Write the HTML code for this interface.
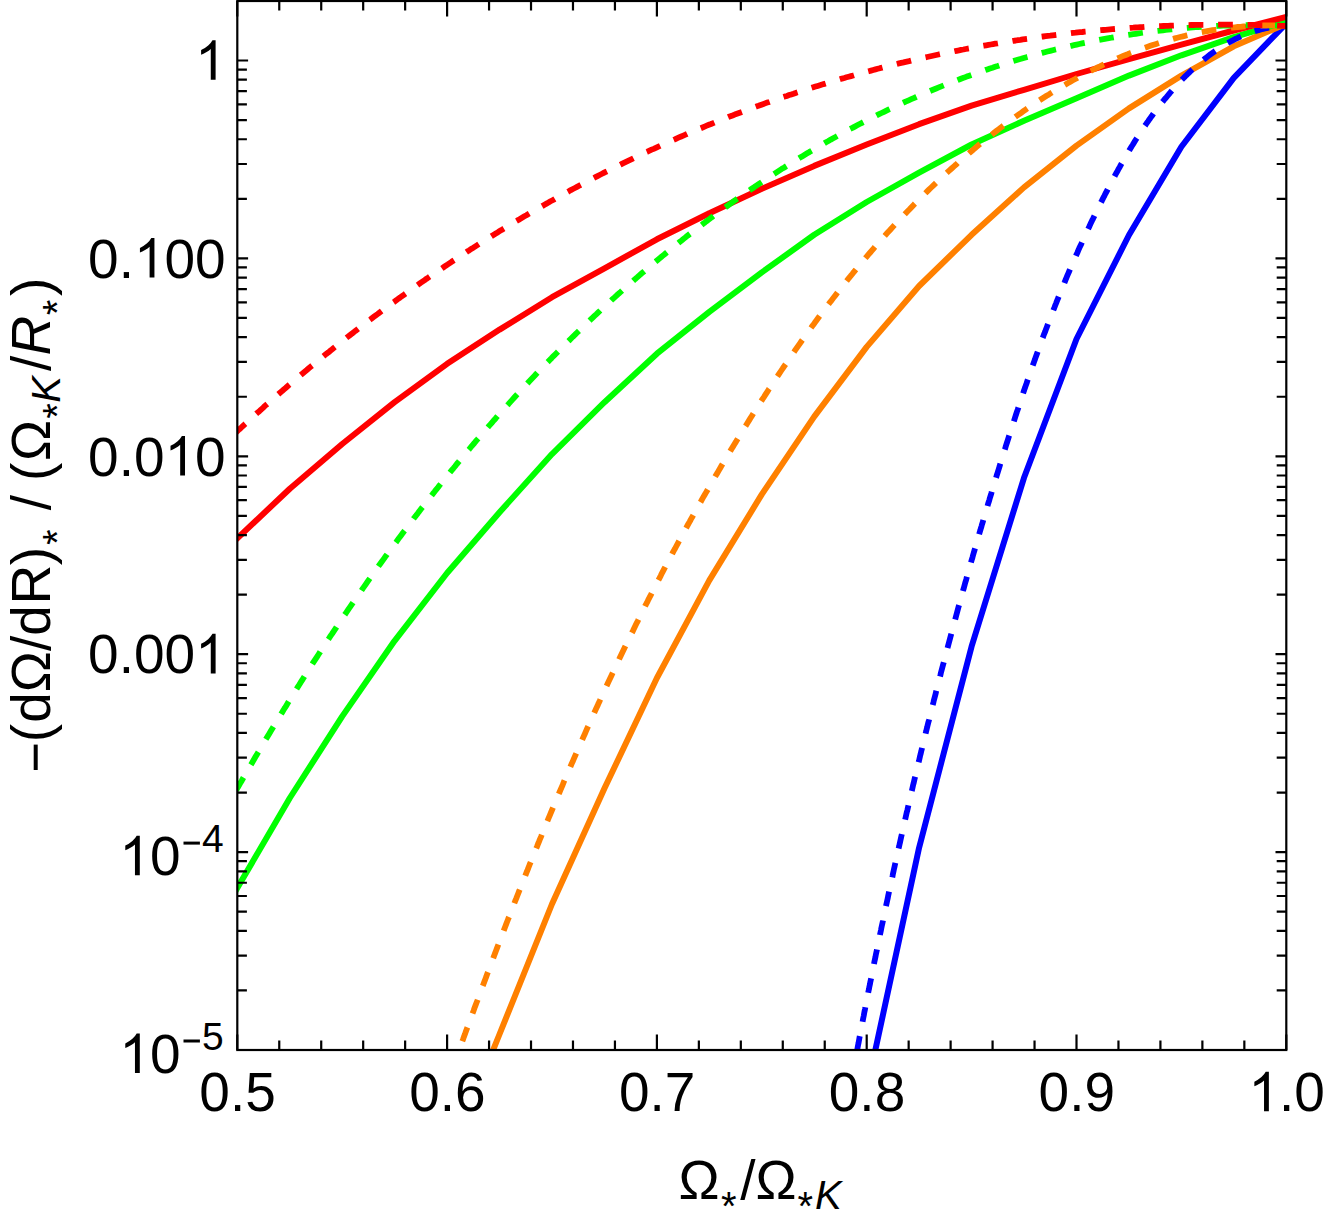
<!DOCTYPE html>
<html><head><meta charset="utf-8"><title>plot</title>
<style>html,body{margin:0;padding:0;background:#fff;}svg{display:block;}</style></head>
<body>
<svg width="1329" height="1211" viewBox="0 0 1329 1211">
<rect width="1329" height="1211" fill="#fff"/>
<defs><clipPath id="c"><rect x="237.3" y="1.0" width="1049.0" height="1049.0"/></clipPath></defs>
<g clip-path="url(#c)" fill="none" stroke-width="6.0" stroke-linejoin="round">
<path d="M864.2,1101.7 L866.7,1090.0 L919.1,847.7 L971.6,646.4 L1024.0,477.8 L1076.5,339.0 L1129.0,235.0 L1181.4,146.7 L1233.8,77.9 L1286.3,23.3 L1289.1,20.4" stroke="#0000ff"/>
<path d="M442.6,1175.1 L447.1,1164.0 L499.6,1034.0 L552.0,904.0 L604.5,788.3 L656.9,678.0 L709.3,580.4 L761.8,494.4 L814.2,416.6 L866.7,346.9 L919.1,286.0 L971.6,234.8 L1024.0,187.4 L1076.5,145.6 L1129.0,108.4 L1181.4,75.6 L1233.8,46.3 L1286.3,23.7 L1290.0,22.1" stroke="#ff8000"/>
<path d="M231.3,898.4 L237.3,888.0 L289.8,798.0 L342.2,716.4 L394.6,640.8 L447.1,573.0 L499.6,512.2 L552.0,454.1 L604.5,402.2 L656.9,353.7 L709.3,311.9 L761.8,272.4 L814.2,234.8 L866.7,202.0 L919.1,172.7 L971.6,144.5 L1024.0,120.7 L1076.5,98.2 L1129.0,75.6 L1181.4,55.3 L1233.8,37.2 L1286.3,21.5 L1290.1,20.4" stroke="#00ff00"/>
<path d="M228.6,546.5 L237.3,538.3 L289.8,488.8 L342.2,444.0 L394.6,402.2 L447.1,363.8 L499.6,329.6 L552.0,297.2 L604.5,268.3 L656.9,239.3 L709.3,213.3 L761.8,188.8 L814.2,165.9 L866.7,144.5 L919.1,124.2 L971.6,105.6 L1024.0,89.8 L1076.5,74.0 L1129.0,59.1 L1181.4,44.7 L1233.8,30.5 L1286.3,16.9 L1290.2,15.9" stroke="#ff0000"/>
<path d="M854.9,1061.8 L857.2,1050.0 L857.6,1047.7 L858.0,1045.5 L858.5,1043.2 L858.9,1040.9 L859.3,1038.7 L859.7,1036.4 L860.2,1034.1 L860.6,1031.9 L861.0,1029.6 L861.5,1027.4 L861.9,1025.1 L862.4,1022.8 L862.8,1020.6 L863.2,1018.3 L863.7,1016.0 L864.1,1013.8 L864.5,1011.5 L865.0,1009.3 L865.4,1007.0 L865.9,1004.7 L866.3,1002.5 L866.8,1000.2 L867.2,997.9 L867.7,995.7 L868.1,993.4 L868.5,991.1 L869.0,988.9 L869.4,986.6 L869.9,984.4 L870.3,982.1 L870.8,979.8 L871.3,977.6 L871.7,975.3 L872.2,973.0 L872.6,970.8 L873.1,968.5 L873.5,966.3 L874.0,964.0 L874.4,961.7 L874.9,959.5 L875.4,957.2 L875.8,954.9 L876.3,952.7 L876.8,950.4 L877.2,948.2 L877.7,945.9 L878.2,943.6 L878.6,941.4 L879.1,939.1 L879.6,936.9 L880.0,934.6 L880.5,932.3 L881.0,930.1 L881.4,927.8 L881.9,925.5 L882.4,923.3 L882.9,921.0 L883.3,918.8 L883.8,916.5 L884.3,914.2 L884.8,912.0 L885.3,909.7 L885.7,907.5 L886.2,905.2 L886.7,902.9 L887.2,900.7 L887.7,898.4 L888.1,896.2 L888.6,893.9 L889.1,891.6 L889.6,889.4 L890.1,887.1 L890.6,884.9 L891.1,882.6 L891.6,880.3 L892.1,878.1 L892.6,875.8 L893.0,873.6 L893.5,871.3 L894.0,869.0 L894.5,866.8 L895.0,864.5 L895.5,862.3 L896.0,860.0 L896.5,857.8 L897.0,855.5 L897.5,853.2 L898.0,851.0 L898.5,848.7 L899.1,846.5 L899.6,844.2 L900.1,842.0 L900.6,839.7 L901.1,837.4 L901.6,835.2 L902.1,832.9 L902.6,830.7 L903.1,828.4 L903.6,826.2 L904.2,823.9 L904.7,821.7 L905.2,819.4 L905.7,817.1 L906.2,814.9 L906.7,812.6 L907.3,810.4 L907.8,808.1 L908.3,805.9 L908.8,803.6 L909.4,801.4 L909.9,799.1 L910.4,796.9 L910.9,794.6 L911.5,792.3 L912.0,790.1 L912.5,787.8 L913.0,785.6 L913.6,783.3 L914.1,781.1 L914.6,778.8 L915.2,776.6 L915.7,774.3 L916.3,772.1 L916.8,769.8 L917.3,767.6 L917.9,765.3 L918.4,763.1 L919.0,760.8 L919.5,758.6 L920.0,756.3 L920.6,754.1 L921.1,751.8 L921.7,749.6 L922.2,747.3 L922.8,745.1 L923.3,742.8 L923.9,740.6 L924.4,738.3 L925.0,736.1 L925.5,733.9 L926.1,731.6 L926.6,729.4 L927.2,727.1 L927.7,724.9 L928.3,722.6 L928.9,720.4 L929.4,718.1 L930.0,715.9 L930.5,713.6 L931.1,711.4 L931.7,709.2 L932.2,706.9 L932.8,704.7 L933.4,702.4 L933.9,700.2 L934.5,697.9 L935.1,695.7 L935.7,693.5 L936.2,691.2 L936.8,689.0 L937.4,686.7 L937.9,684.5 L938.5,682.3 L939.1,680.0 L939.7,677.8 L940.3,675.5 L940.8,673.3 L941.4,671.1 L942.0,668.8 L942.6,666.6 L943.2,664.3 L943.8,662.1 L944.3,659.9 L944.9,657.6 L945.5,655.4 L946.1,653.2 L946.7,650.9 L947.3,648.7 L947.9,646.4 L948.5,644.2 L949.1,642.0 L949.7,639.7 L950.3,637.5 L950.9,635.3 L951.5,633.0 L952.1,630.8 L952.7,628.6 L953.3,626.3 L953.9,624.1 L954.5,621.9 L955.1,619.7 L955.7,617.4 L956.3,615.2 L956.9,613.0 L957.5,610.7 L958.1,608.5 L958.7,606.3 L959.4,604.0 L960.0,601.8 L960.6,599.6 L961.2,597.4 L961.8,595.1 L962.4,592.9 L963.0,590.7 L963.7,588.5 L964.3,586.2 L964.9,584.0 L965.5,581.8 L966.2,579.6 L966.8,577.3 L967.4,575.1 L968.0,572.9 L968.7,570.7 L969.3,568.4 L969.9,566.2 L970.6,564.0 L971.2,561.8 L971.8,559.6 L972.5,557.3 L973.1,555.1 L973.7,552.9 L974.4,550.7 L975.0,548.5 L975.7,546.2 L976.3,544.0 L976.9,541.8 L977.6,539.6 L978.2,537.4 L978.9,535.2 L979.5,532.9 L980.2,530.7 L980.8,528.5 L981.5,526.3 L982.1,524.1 L982.8,521.9 L983.4,519.7 L984.1,517.4 L984.7,515.2 L985.4,513.0 L986.1,510.8 L986.7,508.6 L987.4,506.4 L988.0,504.2 L988.7,502.0 L989.4,499.8 L990.0,497.6 L990.7,495.3 L991.4,493.1 L992.0,490.9 L992.7,488.7 L993.4,486.5 L994.0,484.3 L994.7,482.1 L995.4,479.9 L996.1,477.7 L996.7,475.5 L997.4,473.3 L998.1,471.1 L998.8,468.9 L999.5,466.7 L1000.1,464.5 L1000.8,462.3 L1001.5,460.1 L1002.2,457.9 L1002.9,455.7 L1003.6,453.5 L1004.3,451.3 L1005.0,449.1 L1005.6,446.9 L1006.3,444.7 L1007.0,442.5 L1007.7,440.3 L1008.4,438.1 L1009.1,435.9 L1009.8,433.7 L1010.5,431.5 L1011.2,429.4 L1011.9,427.2 L1012.7,425.0 L1013.4,422.8 L1014.1,420.6 L1014.8,418.4 L1015.5,416.2 L1016.2,414.0 L1016.9,411.8 L1017.7,409.7 L1018.4,407.5 L1019.1,405.3 L1019.8,403.1 L1020.6,400.9 L1021.3,398.7 L1022.0,396.6 L1022.8,394.4 L1023.5,392.2 L1024.2,390.0 L1025.0,387.8 L1025.7,385.7 L1026.5,383.5 L1027.2,381.3 L1028.0,379.1 L1028.7,377.0 L1029.5,374.8 L1030.2,372.6 L1031.0,370.4 L1031.8,368.3 L1032.5,366.1 L1033.3,363.9 L1034.1,361.8 L1034.9,359.6 L1035.6,357.4 L1036.4,355.2 L1037.2,353.1 L1038.0,350.9 L1038.8,348.8 L1039.5,346.6 L1040.3,344.4 L1041.1,342.3 L1041.9,340.1 L1042.7,337.9 L1043.5,335.8 L1044.3,333.6 L1045.2,331.5 L1046.0,329.3 L1046.8,327.2 L1047.6,325.0 L1048.4,322.9 L1049.2,320.7 L1050.1,318.5 L1050.9,316.4 L1051.7,314.2 L1052.6,312.1 L1053.4,310.0 L1054.3,307.8 L1055.1,305.7 L1056.0,303.5 L1056.8,301.4 L1057.7,299.2 L1058.5,297.1 L1059.4,294.9 L1060.3,292.8 L1061.1,290.7 L1062.0,288.5 L1062.9,286.4 L1063.8,284.3 L1064.7,282.1 L1065.5,280.0 L1066.4,277.9 L1067.3,275.7 L1068.2,273.6 L1069.1,271.5 L1070.0,269.3 L1071.0,267.2 L1071.9,265.1 L1072.8,263.0 L1073.7,260.8 L1074.6,258.7 L1075.6,256.6 L1076.5,254.5 L1077.5,252.4 L1078.4,250.2 L1079.3,248.1 L1080.3,246.0 L1081.3,243.9 L1082.2,241.8 L1083.2,239.7 L1084.1,237.6 L1085.1,235.5 L1086.1,233.4 L1087.1,231.2 L1088.1,229.1 L1089.1,227.0 L1090.0,224.9 L1091.0,222.8 L1092.0,220.7 L1093.1,218.6 L1094.1,216.5 L1095.1,214.4 L1096.1,212.3 L1097.1,210.2 L1098.2,208.2 L1099.2,206.1 L1100.2,204.0 L1101.3,201.9 L1102.3,199.8 L1103.4,197.7 L1104.5,195.6 L1105.5,193.5 L1106.6,191.5 L1107.7,189.4 L1108.7,187.3 L1109.8,185.2 L1110.9,183.2 L1112.0,181.1 L1113.1,179.0 L1114.2,177.0 L1115.3,174.9 L1116.5,172.8 L1117.6,170.8 L1118.7,168.7 L1119.9,166.7 L1121.0,164.6 L1122.2,162.6 L1123.3,160.6 L1124.5,158.5 L1125.7,156.5 L1126.8,154.5 L1128.0,152.5 L1129.2,150.5 L1130.4,148.5 L1131.6,146.5 L1132.9,144.5 L1134.1,142.5 L1135.3,140.5 L1136.6,138.5 L1137.8,136.6 L1139.1,134.6 L1140.3,132.7 L1141.6,130.7 L1142.9,128.8 L1144.2,126.9 L1145.5,125.0 L1146.8,123.0 L1148.2,121.1 L1149.5,119.2 L1150.8,117.4 L1152.2,115.5 L1153.5,113.6 L1154.9,111.8 L1156.3,109.9 L1157.7,108.1 L1159.1,106.2 L1160.5,104.4 L1161.9,102.6 L1163.4,100.8 L1164.8,99.0 L1166.3,97.3 L1167.8,95.5 L1169.2,93.8 L1170.7,92.0 L1172.2,90.3 L1173.8,88.6 L1175.3,86.9 L1176.8,85.2 L1178.4,83.5 L1180.0,81.8 L1181.5,80.2 L1183.1,78.5 L1184.7,76.9 L1186.3,75.3 L1188.0,73.7 L1189.6,72.1 L1191.3,70.5 L1192.9,69.0 L1194.6,67.5 L1196.3,65.9 L1198.0,64.4 L1199.7,62.9 L1201.5,61.5 L1203.2,60.0 L1205.0,58.6 L1206.8,57.2 L1208.6,55.8 L1210.4,54.4 L1212.2,53.1 L1214.0,51.8 L1215.9,50.5 L1217.8,49.2 L1219.6,48.0 L1221.5,46.8 L1223.5,45.6 L1225.4,44.4 L1227.3,43.3 L1229.3,42.2 L1231.3,41.1 L1233.3,40.1 L1235.3,39.0 L1237.3,38.1 L1239.3,37.1 L1241.4,36.2 L1243.5,35.3 L1245.6,34.4 L1247.7,33.6 L1249.8,32.8 L1251.9,32.1 L1254.1,31.4 L1256.3,30.7 L1258.5,30.1 L1260.7,29.5 L1262.9,28.9 L1265.2,28.4 L1267.5,27.9 L1269.7,27.5 L1272.0,27.1 L1274.4,26.7 L1276.7,26.4 L1279.1,26.2 L1281.5,26.0 L1283.9,25.8 L1286.3,25.6 L1289.3,25.5" stroke="#0000ff" stroke-width="5.8" stroke-dasharray="14.75 14.75" stroke-dashoffset="18.21"/>
<path d="M455.0,1061.3 L459.1,1050.0 L460.1,1047.4 L461.0,1044.8 L462.0,1042.1 L463.0,1039.5 L463.9,1036.9 L464.9,1034.3 L465.8,1031.6 L466.8,1029.0 L467.8,1026.4 L468.7,1023.8 L469.7,1021.2 L470.7,1018.5 L471.6,1015.9 L472.6,1013.3 L473.6,1010.7 L474.5,1008.0 L475.5,1005.4 L476.5,1002.8 L477.5,1000.2 L478.4,997.6 L479.4,994.9 L480.4,992.3 L481.4,989.7 L482.3,987.1 L483.3,984.5 L484.3,981.9 L485.3,979.2 L486.3,976.6 L487.2,974.0 L488.2,971.4 L489.2,968.8 L490.2,966.2 L491.2,963.6 L492.2,960.9 L493.2,958.3 L494.1,955.7 L495.1,953.1 L496.1,950.5 L497.1,947.9 L498.1,945.3 L499.1,942.7 L500.1,940.1 L501.1,937.5 L502.1,934.9 L503.1,932.2 L504.1,929.6 L505.1,927.0 L506.1,924.4 L507.1,921.8 L508.1,919.2 L509.2,916.6 L510.2,914.0 L511.2,911.4 L512.2,908.8 L513.2,906.2 L514.2,903.6 L515.2,901.0 L516.3,898.4 L517.3,895.8 L518.3,893.2 L519.3,890.6 L520.4,888.0 L521.4,885.4 L522.4,882.8 L523.4,880.2 L524.5,877.7 L525.5,875.1 L526.5,872.5 L527.6,869.9 L528.6,867.3 L529.6,864.7 L530.7,862.1 L531.7,859.5 L532.8,856.9 L533.8,854.3 L534.9,851.8 L535.9,849.2 L537.0,846.6 L538.0,844.0 L539.1,841.4 L540.1,838.8 L541.2,836.3 L542.2,833.7 L543.3,831.1 L544.3,828.5 L545.4,825.9 L546.5,823.4 L547.5,820.8 L548.6,818.2 L549.7,815.6 L550.7,813.1 L551.8,810.5 L552.9,807.9 L554.0,805.4 L555.1,802.8 L556.1,800.2 L557.2,797.6 L558.3,795.1 L559.4,792.5 L560.5,789.9 L561.6,787.4 L562.7,784.8 L563.7,782.2 L564.8,779.7 L565.9,777.1 L567.0,774.6 L568.1,772.0 L569.2,769.4 L570.3,766.9 L571.4,764.3 L572.6,761.8 L573.7,759.2 L574.8,756.7 L575.9,754.1 L577.0,751.6 L578.1,749.0 L579.2,746.5 L580.4,743.9 L581.5,741.4 L582.6,738.8 L583.7,736.3 L584.9,733.7 L586.0,731.2 L587.1,728.6 L588.3,726.1 L589.4,723.5 L590.6,721.0 L591.7,718.5 L592.9,715.9 L594.0,713.4 L595.1,710.9 L596.3,708.3 L597.5,705.8 L598.6,703.2 L599.8,700.7 L600.9,698.2 L602.1,695.7 L603.3,693.1 L604.4,690.6 L605.6,688.1 L606.8,685.5 L607.9,683.0 L609.1,680.5 L610.3,678.0 L611.5,675.5 L612.7,672.9 L613.8,670.4 L615.0,667.9 L616.2,665.4 L617.4,662.9 L618.6,660.4 L619.8,657.8 L621.0,655.3 L622.2,652.8 L623.4,650.3 L624.6,647.8 L625.8,645.3 L627.1,642.8 L628.3,640.3 L629.5,637.8 L630.7,635.3 L631.9,632.8 L633.2,630.3 L634.4,627.8 L635.6,625.3 L636.8,622.8 L638.1,620.3 L639.3,617.8 L640.6,615.3 L641.8,612.8 L643.0,610.3 L644.3,607.8 L645.5,605.3 L646.8,602.9 L648.0,600.4 L649.3,597.9 L650.6,595.4 L651.8,592.9 L653.1,590.4 L654.4,588.0 L655.6,585.5 L656.9,583.0 L658.2,580.5 L659.5,578.1 L660.8,575.6 L662.0,573.1 L663.3,570.6 L664.6,568.2 L665.9,565.7 L667.2,563.2 L668.5,560.8 L669.8,558.3 L671.1,555.9 L672.4,553.4 L673.7,550.9 L675.1,548.5 L676.4,546.0 L677.7,543.6 L679.0,541.1 L680.3,538.7 L681.7,536.2 L683.0,533.8 L684.3,531.3 L685.7,528.9 L687.0,526.4 L688.3,524.0 L689.7,521.6 L691.0,519.1 L692.4,516.7 L693.8,514.2 L695.1,511.8 L696.5,509.4 L697.8,506.9 L699.2,504.5 L700.6,502.1 L701.9,499.7 L703.3,497.2 L704.7,494.8 L706.1,492.4 L707.5,490.0 L708.9,487.5 L710.2,485.1 L711.6,482.7 L713.0,480.3 L714.4,477.9 L715.8,475.5 L717.3,473.1 L718.7,470.6 L720.1,468.2 L721.5,465.8 L722.9,463.4 L724.3,461.0 L725.8,458.6 L727.2,456.2 L728.6,453.8 L730.1,451.4 L731.5,449.0 L733.0,446.6 L734.4,444.3 L735.9,441.9 L737.3,439.5 L738.8,437.1 L740.2,434.7 L741.7,432.3 L743.2,429.9 L744.6,427.6 L746.1,425.2 L747.6,422.8 L749.1,420.4 L750.5,418.1 L752.0,415.7 L753.5,413.3 L755.0,411.0 L756.5,408.6 L758.0,406.2 L759.5,403.9 L761.0,401.5 L762.5,399.1 L764.1,396.8 L765.6,394.4 L767.1,392.1 L768.6,389.7 L770.2,387.4 L771.7,385.0 L773.2,382.7 L774.8,380.4 L776.3,378.0 L777.9,375.7 L779.4,373.4 L781.0,371.0 L782.6,368.7 L784.1,366.4 L785.7,364.1 L787.3,361.7 L788.9,359.4 L790.4,357.1 L792.0,354.8 L793.6,352.5 L795.2,350.2 L796.8,347.9 L798.4,345.6 L800.0,343.3 L801.6,341.0 L803.3,338.7 L804.9,336.4 L806.5,334.2 L808.1,331.9 L809.8,329.6 L811.4,327.3 L813.1,325.1 L814.7,322.8 L816.4,320.5 L818.0,318.3 L819.7,316.0 L821.4,313.8 L823.0,311.5 L824.7,309.3 L826.4,307.1 L828.1,304.8 L829.8,302.6 L831.5,300.4 L833.2,298.1 L834.9,295.9 L836.6,293.7 L838.3,291.5 L840.1,289.3 L841.8,287.1 L843.5,284.9 L845.3,282.7 L847.0,280.5 L848.7,278.3 L850.5,276.2 L852.3,274.0 L854.0,271.8 L855.8,269.7 L857.6,267.5 L859.4,265.3 L861.1,263.2 L862.9,261.1 L864.7,258.9 L866.5,256.8 L868.3,254.7 L870.2,252.5 L872.0,250.4 L873.8,248.3 L875.6,246.2 L877.5,244.1 L879.3,242.0 L881.2,239.9 L883.0,237.8 L884.9,235.7 L886.7,233.6 L888.6,231.6 L890.5,229.5 L892.4,227.4 L894.2,225.4 L896.1,223.3 L898.0,221.3 L899.9,219.3 L901.9,217.2 L903.8,215.2 L905.7,213.2 L907.6,211.2 L909.6,209.2 L911.5,207.2 L913.4,205.2 L915.4,203.2 L917.4,201.2 L919.3,199.2 L921.3,197.3 L923.3,195.3 L925.3,193.3 L927.2,191.4 L929.2,189.4 L931.2,187.5 L933.2,185.6 L935.3,183.6 L937.3,181.7 L939.3,179.8 L941.3,177.9 L943.4,176.0 L945.4,174.1 L947.5,172.2 L949.5,170.4 L951.6,168.5 L953.7,166.6 L955.8,164.8 L957.8,162.9 L959.9,161.1 L962.0,159.2 L964.1,157.4 L966.2,155.6 L968.4,153.8 L970.5,152.0 L972.6,150.2 L974.7,148.4 L976.9,146.6 L979.0,144.8 L981.2,143.1 L983.4,141.3 L985.5,139.6 L987.7,137.8 L989.9,136.1 L992.1,134.4 L994.3,132.6 L996.5,130.9 L998.7,129.2 L1000.9,127.5 L1003.1,125.9 L1005.4,124.2 L1007.6,122.5 L1009.8,120.9 L1012.1,119.2 L1014.4,117.6 L1016.6,116.0 L1018.9,114.4 L1021.2,112.8 L1023.4,111.2 L1025.7,109.6 L1028.0,108.0 L1030.3,106.4 L1032.6,104.9 L1035.0,103.4 L1037.3,101.8 L1039.6,100.3 L1041.9,98.8 L1044.3,97.3 L1046.6,95.8 L1049.0,94.4 L1051.3,92.9 L1053.7,91.4 L1056.1,90.0 L1058.5,88.6 L1060.9,87.2 L1063.2,85.8 L1065.6,84.4 L1068.0,83.0 L1070.5,81.6 L1072.9,80.3 L1075.3,79.0 L1077.7,77.6 L1080.2,76.3 L1082.6,75.0 L1085.1,73.8 L1087.5,72.5 L1090.0,71.2 L1092.5,70.0 L1094.9,68.8 L1097.4,67.5 L1099.9,66.4 L1102.4,65.2 L1104.9,64.0 L1107.4,62.8 L1109.9,61.7 L1112.4,60.6 L1115.0,59.5 L1117.5,58.4 L1120.0,57.3 L1122.6,56.2 L1125.1,55.2 L1127.7,54.2 L1130.2,53.1 L1132.8,52.1 L1135.4,51.2 L1138.0,50.2 L1140.6,49.2 L1143.2,48.3 L1145.8,47.4 L1148.4,46.5 L1151.0,45.6 L1153.6,44.7 L1156.2,43.9 L1158.8,43.1 L1161.5,42.2 L1164.1,41.4 L1166.8,40.7 L1169.4,39.9 L1172.1,39.2 L1174.8,38.4 L1177.4,37.7 L1180.1,37.0 L1182.8,36.4 L1185.5,35.7 L1188.2,35.1 L1190.9,34.5 L1193.6,33.9 L1196.3,33.3 L1199.0,32.7 L1201.8,32.2 L1204.5,31.7 L1207.2,31.2 L1210.0,30.7 L1212.7,30.2 L1215.5,29.8 L1218.3,29.4 L1221.0,29.0 L1223.8,28.6 L1226.6,28.2 L1229.4,27.9 L1232.2,27.6 L1235.0,27.3 L1237.8,27.0 L1240.6,26.8 L1243.4,26.5 L1246.2,26.3 L1249.1,26.1 L1251.9,26.0 L1254.7,25.8 L1257.6,25.7 L1260.4,25.6 L1263.3,25.5 L1266.2,25.5 L1269.0,25.4 L1271.9,25.4 L1274.8,25.4 L1277.7,25.4 L1280.6,25.5 L1283.5,25.6 L1286.4,25.7 L1289.4,25.8" stroke="#ff8000" stroke-width="5.8" stroke-dasharray="14.75 14.75" stroke-dashoffset="8.15"/>
<path d="M231.9,797.8 L237.8,787.4 L239.2,785.1 L240.5,782.7 L241.9,780.4 L243.2,778.0 L244.6,775.6 L245.9,773.3 L247.3,770.9 L248.7,768.6 L250.0,766.2 L251.4,763.9 L252.8,761.5 L254.1,759.2 L255.5,756.8 L256.9,754.5 L258.3,752.1 L259.7,749.8 L261.0,747.4 L262.4,745.1 L263.8,742.7 L265.2,740.4 L266.6,738.1 L268.0,735.7 L269.4,733.4 L270.8,731.0 L272.2,728.7 L273.6,726.4 L275.0,724.0 L276.4,721.7 L277.8,719.4 L279.3,717.0 L280.7,714.7 L282.1,712.4 L283.5,710.0 L285.0,707.7 L286.4,705.4 L287.8,703.1 L289.2,700.7 L290.7,698.4 L292.1,696.1 L293.6,693.8 L295.0,691.5 L296.5,689.1 L297.9,686.8 L299.4,684.5 L300.8,682.2 L302.3,679.9 L303.7,677.6 L305.2,675.3 L306.7,672.9 L308.1,670.6 L309.6,668.3 L311.1,666.0 L312.5,663.7 L314.0,661.4 L315.5,659.1 L317.0,656.8 L318.5,654.5 L320.0,652.2 L321.4,649.9 L322.9,647.6 L324.4,645.3 L325.9,643.1 L327.4,640.8 L328.9,638.5 L330.4,636.2 L332.0,633.9 L333.5,631.6 L335.0,629.4 L336.5,627.1 L338.0,624.8 L339.5,622.5 L341.1,620.2 L342.6,618.0 L344.1,615.7 L345.7,613.4 L347.2,611.2 L348.7,608.9 L350.3,606.6 L351.8,604.4 L353.4,602.1 L354.9,599.9 L356.5,597.6 L358.0,595.4 L359.6,593.1 L361.2,590.9 L362.7,588.6 L364.3,586.4 L365.9,584.1 L367.4,581.9 L369.0,579.6 L370.6,577.4 L372.2,575.2 L373.8,572.9 L375.4,570.7 L376.9,568.5 L378.5,566.2 L380.1,564.0 L381.7,561.8 L383.3,559.6 L384.9,557.3 L386.6,555.1 L388.2,552.9 L389.8,550.7 L391.4,548.5 L393.0,546.3 L394.6,544.1 L396.3,541.9 L397.9,539.6 L399.5,537.4 L401.2,535.2 L402.8,533.1 L404.4,530.9 L406.1,528.7 L407.7,526.5 L409.4,524.3 L411.0,522.1 L412.7,519.9 L414.3,517.7 L416.0,515.6 L417.7,513.4 L419.3,511.2 L421.0,509.0 L422.7,506.9 L424.4,504.7 L426.0,502.5 L427.7,500.4 L429.4,498.2 L431.1,496.1 L432.8,493.9 L434.5,491.8 L436.2,489.6 L437.9,487.5 L439.6,485.3 L441.3,483.2 L443.0,481.1 L444.7,478.9 L446.4,476.8 L448.2,474.7 L449.9,472.5 L451.6,470.4 L453.4,468.3 L455.1,466.2 L456.8,464.0 L458.6,461.9 L460.3,459.8 L462.0,457.7 L463.8,455.6 L465.5,453.5 L467.3,451.4 L469.1,449.3 L470.8,447.2 L472.6,445.1 L474.4,443.0 L476.1,440.9 L477.9,438.9 L479.7,436.8 L481.5,434.7 L483.2,432.6 L485.0,430.6 L486.8,428.5 L488.6,426.4 L490.4,424.4 L492.2,422.3 L494.0,420.2 L495.8,418.2 L497.6,416.1 L499.5,414.1 L501.3,412.1 L503.1,410.0 L504.9,408.0 L506.7,405.9 L508.6,403.9 L510.4,401.9 L512.2,399.9 L514.1,397.8 L515.9,395.8 L517.8,393.8 L519.6,391.8 L521.5,389.8 L523.3,387.8 L525.2,385.8 L527.1,383.8 L528.9,381.8 L530.8,379.8 L532.7,377.8 L534.6,375.8 L536.4,373.8 L538.3,371.8 L540.2,369.9 L542.1,367.9 L544.0,365.9 L545.9,363.9 L547.8,362.0 L549.7,360.0 L551.6,358.1 L553.5,356.1 L555.4,354.2 L557.4,352.2 L559.3,350.3 L561.2,348.3 L563.1,346.4 L565.1,344.5 L567.0,342.5 L569.0,340.6 L570.9,338.7 L572.8,336.8 L574.8,334.9 L576.7,333.0 L578.7,331.1 L580.7,329.2 L582.6,327.3 L584.6,325.4 L586.6,323.5 L588.6,321.6 L590.5,319.7 L592.5,317.8 L594.5,315.9 L596.5,314.1 L598.5,312.2 L600.5,310.3 L602.5,308.5 L604.5,306.6 L606.5,304.8 L608.5,302.9 L610.5,301.1 L612.5,299.2 L614.6,297.4 L616.6,295.5 L618.6,293.7 L620.7,291.9 L622.7,290.1 L624.7,288.2 L626.8,286.4 L628.8,284.6 L630.9,282.8 L633.0,281.0 L635.0,279.2 L637.1,277.4 L639.1,275.6 L641.2,273.8 L643.3,272.1 L645.4,270.3 L647.5,268.5 L649.5,266.7 L651.6,265.0 L653.7,263.2 L655.8,261.5 L657.9,259.7 L660.0,258.0 L662.1,256.2 L664.3,254.5 L666.4,252.7 L668.5,251.0 L670.6,249.3 L672.7,247.6 L674.9,245.8 L677.0,244.1 L679.1,242.4 L681.3,240.7 L683.4,239.0 L685.6,237.3 L687.7,235.6 L689.9,233.9 L692.1,232.3 L694.2,230.6 L696.4,228.9 L698.6,227.2 L700.8,225.6 L702.9,223.9 L705.1,222.3 L707.3,220.6 L709.5,219.0 L711.7,217.3 L713.9,215.7 L716.1,214.1 L718.3,212.4 L720.5,210.8 L722.7,209.2 L724.9,207.6 L727.2,206.0 L729.4,204.4 L731.6,202.8 L733.8,201.2 L736.1,199.6 L738.3,198.1 L740.6,196.5 L742.8,194.9 L745.1,193.4 L747.3,191.8 L749.6,190.3 L751.8,188.7 L754.1,187.2 L756.4,185.6 L758.6,184.1 L760.9,182.6 L763.2,181.1 L765.5,179.6 L767.8,178.1 L770.0,176.6 L772.3,175.1 L774.6,173.6 L776.9,172.1 L779.2,170.6 L781.5,169.1 L783.9,167.7 L786.2,166.2 L788.5,164.8 L790.8,163.3 L793.1,161.9 L795.5,160.4 L797.8,159.0 L800.1,157.6 L802.5,156.2 L804.8,154.8 L807.2,153.3 L809.5,151.9 L811.9,150.6 L814.2,149.2 L816.6,147.8 L818.9,146.4 L821.3,145.0 L823.7,143.7 L826.0,142.3 L828.4,141.0 L830.8,139.6 L833.2,138.3 L835.6,137.0 L837.9,135.7 L840.3,134.3 L842.7,133.0 L845.1,131.7 L847.5,130.4 L849.9,129.1 L852.4,127.9 L854.8,126.6 L857.2,125.3 L859.6,124.0 L862.0,122.8 L864.5,121.5 L866.9,120.3 L869.3,119.1 L871.8,117.8 L874.2,116.6 L876.6,115.4 L879.1,114.2 L881.5,113.0 L884.0,111.8 L886.4,110.6 L888.9,109.4 L891.4,108.3 L893.8,107.1 L896.3,106.0 L898.8,104.8 L901.2,103.7 L903.7,102.5 L906.2,101.4 L908.7,100.3 L911.2,99.2 L913.7,98.1 L916.2,97.0 L918.7,95.9 L921.2,94.8 L923.7,93.7 L926.2,92.7 L928.7,91.6 L931.2,90.5 L933.7,89.5 L936.2,88.5 L938.8,87.4 L941.3,86.4 L943.8,85.4 L946.4,84.4 L948.9,83.4 L951.4,82.4 L954.0,81.4 L956.5,80.5 L959.1,79.5 L961.6,78.5 L964.2,77.6 L966.7,76.6 L969.3,75.7 L971.9,74.8 L974.4,73.9 L977.0,73.0 L979.6,72.1 L982.1,71.2 L984.7,70.3 L987.3,69.4 L989.9,68.5 L992.5,67.7 L995.1,66.8 L997.7,66.0 L1000.3,65.1 L1002.9,64.3 L1005.5,63.5 L1008.1,62.7 L1010.7,61.9 L1013.3,61.1 L1015.9,60.3 L1018.5,59.5 L1021.1,58.8 L1023.7,58.0 L1026.4,57.2 L1029.0,56.5 L1031.6,55.8 L1034.3,55.0 L1036.9,54.3 L1039.5,53.6 L1042.2,52.9 L1044.8,52.2 L1047.4,51.5 L1050.1,50.9 L1052.7,50.2 L1055.4,49.5 L1058.0,48.9 L1060.7,48.2 L1063.3,47.6 L1066.0,47.0 L1068.7,46.4 L1071.3,45.8 L1074.0,45.2 L1076.7,44.6 L1079.3,44.0 L1082.0,43.4 L1084.7,42.8 L1087.3,42.3 L1090.0,41.7 L1092.7,41.2 L1095.4,40.7 L1098.1,40.1 L1100.7,39.6 L1103.4,39.1 L1106.1,38.6 L1108.8,38.1 L1111.5,37.7 L1114.2,37.2 L1116.9,36.7 L1119.6,36.3 L1122.3,35.8 L1125.0,35.4 L1127.7,35.0 L1130.4,34.6 L1133.1,34.2 L1135.8,33.8 L1138.5,33.4 L1141.2,33.0 L1143.9,32.6 L1146.6,32.2 L1149.3,31.9 L1152.1,31.5 L1154.8,31.2 L1157.5,30.9 L1160.2,30.6 L1162.9,30.3 L1165.7,29.9 L1168.4,29.7 L1171.1,29.4 L1173.8,29.1 L1176.6,28.8 L1179.3,28.6 L1182.0,28.3 L1184.7,28.1 L1187.5,27.9 L1190.2,27.6 L1192.9,27.4 L1195.7,27.2 L1198.4,27.0 L1201.2,26.9 L1203.9,26.7 L1206.6,26.5 L1209.4,26.4 L1212.1,26.2 L1214.9,26.1 L1217.6,25.9 L1220.3,25.8 L1223.1,25.7 L1225.8,25.6 L1228.6,25.5 L1231.3,25.4 L1234.1,25.4 L1236.8,25.3 L1239.6,25.2 L1242.3,25.2 L1245.1,25.2 L1247.8,25.1 L1250.6,25.1 L1253.3,25.1 L1256.1,25.1 L1258.8,25.1 L1261.6,25.1 L1264.3,25.2 L1267.1,25.2 L1269.8,25.3 L1272.6,25.3 L1275.3,25.4 L1278.1,25.5 L1280.8,25.5 L1283.6,25.6 L1286.3,25.7 L1289.3,25.9" stroke="#00ff00" stroke-width="5.8" stroke-dasharray="14.75 14.75" stroke-dashoffset="20.89"/>
<path d="M228.6,439.2 L237.4,431.1 L239.1,429.5 L240.8,428.0 L242.5,426.4 L244.2,424.8 L245.9,423.3 L247.6,421.7 L249.3,420.1 L251.0,418.6 L252.7,417.0 L254.4,415.5 L256.1,413.9 L257.8,412.4 L259.6,410.9 L261.3,409.3 L263.0,407.8 L264.7,406.2 L266.4,404.7 L268.2,403.2 L269.9,401.6 L271.6,400.1 L273.4,398.6 L275.1,397.1 L276.9,395.5 L278.6,394.0 L280.3,392.5 L282.1,391.0 L283.8,389.5 L285.6,388.0 L287.3,386.5 L289.1,384.9 L290.9,383.4 L292.6,381.9 L294.4,380.4 L296.1,378.9 L297.9,377.4 L299.7,375.9 L301.4,374.5 L303.2,373.0 L305.0,371.5 L306.8,370.0 L308.5,368.5 L310.3,367.0 L312.1,365.6 L313.9,364.1 L315.7,362.6 L317.5,361.1 L319.3,359.7 L321.1,358.2 L322.9,356.7 L324.6,355.3 L326.4,353.8 L328.3,352.4 L330.1,350.9 L331.9,349.5 L333.7,348.0 L335.5,346.6 L337.3,345.1 L339.1,343.7 L340.9,342.2 L342.7,340.8 L344.6,339.4 L346.4,337.9 L348.2,336.5 L350.0,335.1 L351.9,333.7 L353.7,332.2 L355.5,330.8 L357.4,329.4 L359.2,328.0 L361.0,326.6 L362.9,325.2 L364.7,323.7 L366.6,322.3 L368.4,320.9 L370.3,319.5 L372.1,318.1 L374.0,316.7 L375.8,315.4 L377.7,314.0 L379.5,312.6 L381.4,311.2 L383.3,309.8 L385.1,308.4 L387.0,307.1 L388.9,305.7 L390.7,304.3 L392.6,302.9 L394.5,301.6 L396.4,300.2 L398.2,298.8 L400.1,297.5 L402.0,296.1 L403.9,294.8 L405.8,293.4 L407.7,292.1 L409.5,290.7 L411.4,289.4 L413.3,288.1 L415.2,286.7 L417.1,285.4 L419.0,284.0 L420.9,282.7 L422.8,281.4 L424.7,280.1 L426.6,278.7 L428.6,277.4 L430.5,276.1 L432.4,274.8 L434.3,273.5 L436.2,272.2 L438.1,270.9 L440.1,269.6 L442.0,268.3 L443.9,267.0 L445.8,265.7 L447.8,264.4 L449.7,263.1 L451.6,261.8 L453.6,260.5 L455.5,259.3 L457.4,258.0 L459.4,256.7 L461.3,255.4 L463.3,254.2 L465.2,252.9 L467.1,251.6 L469.1,250.4 L471.0,249.1 L473.0,247.9 L475.0,246.6 L476.9,245.4 L478.9,244.1 L480.8,242.9 L482.8,241.7 L484.8,240.4 L486.7,239.2 L488.7,238.0 L490.7,236.7 L492.6,235.5 L494.6,234.3 L496.6,233.1 L498.5,231.8 L500.5,230.6 L502.5,229.4 L504.5,228.2 L506.5,227.0 L508.5,225.8 L510.4,224.6 L512.4,223.4 L514.4,222.2 L516.4,221.0 L518.4,219.9 L520.4,218.7 L522.4,217.5 L524.4,216.3 L526.4,215.2 L528.4,214.0 L530.4,212.8 L532.4,211.7 L534.4,210.5 L536.4,209.3 L538.4,208.2 L540.5,207.0 L542.5,205.9 L544.5,204.7 L546.5,203.6 L548.5,202.5 L550.5,201.3 L552.6,200.2 L554.6,199.1 L556.6,197.9 L558.6,196.8 L560.7,195.7 L562.7,194.6 L564.7,193.5 L566.8,192.4 L568.8,191.3 L570.8,190.1 L572.9,189.0 L574.9,188.0 L577.0,186.9 L579.0,185.8 L581.1,184.7 L583.1,183.6 L585.2,182.5 L587.2,181.4 L589.3,180.4 L591.3,179.3 L593.4,178.2 L595.4,177.2 L597.5,176.1 L599.6,175.0 L601.6,174.0 L603.7,172.9 L605.7,171.9 L607.8,170.9 L609.9,169.8 L612.0,168.8 L614.0,167.7 L616.1,166.7 L618.2,165.7 L620.3,164.7 L622.3,163.6 L624.4,162.6 L626.5,161.6 L628.6,160.6 L630.7,159.6 L632.8,158.6 L634.8,157.6 L636.9,156.6 L639.0,155.6 L641.1,154.6 L643.2,153.6 L645.3,152.6 L647.4,151.7 L649.5,150.7 L651.6,149.7 L653.7,148.8 L655.8,147.8 L657.9,146.8 L660.0,145.9 L662.1,144.9 L664.2,144.0 L666.4,143.0 L668.5,142.1 L670.6,141.1 L672.7,140.2 L674.8,139.3 L676.9,138.3 L679.0,137.4 L681.2,136.5 L683.3,135.6 L685.4,134.7 L687.5,133.7 L689.7,132.8 L691.8,131.9 L693.9,131.0 L696.1,130.1 L698.2,129.2 L700.3,128.4 L702.5,127.5 L704.6,126.6 L706.7,125.7 L708.9,124.8 L711.0,124.0 L713.2,123.1 L715.3,122.2 L717.5,121.4 L719.6,120.5 L721.8,119.7 L723.9,118.8 L726.1,118.0 L728.2,117.1 L730.4,116.3 L732.5,115.5 L734.7,114.6 L736.9,113.8 L739.0,113.0 L741.2,112.2 L743.3,111.4 L745.5,110.5 L747.7,109.7 L749.8,108.9 L752.0,108.1 L754.2,107.3 L756.3,106.5 L758.5,105.8 L760.7,105.0 L762.9,104.2 L765.0,103.4 L767.2,102.6 L769.4,101.9 L771.6,101.1 L773.8,100.3 L776.0,99.6 L778.1,98.8 L780.3,98.1 L782.5,97.3 L784.7,96.6 L786.9,95.9 L789.1,95.1 L791.3,94.4 L793.5,93.7 L795.7,92.9 L797.9,92.2 L800.1,91.5 L802.3,90.8 L804.5,90.1 L806.7,89.4 L808.9,88.7 L811.1,88.0 L813.3,87.3 L815.5,86.6 L817.7,85.9 L819.9,85.2 L822.1,84.5 L824.3,83.9 L826.5,83.2 L828.7,82.5 L830.9,81.9 L833.2,81.2 L835.4,80.6 L837.6,79.9 L839.8,79.3 L842.0,78.6 L844.3,78.0 L846.5,77.3 L848.7,76.7 L850.9,76.1 L853.2,75.5 L855.4,74.8 L857.6,74.2 L859.8,73.6 L862.1,73.0 L864.3,72.4 L866.5,71.8 L868.8,71.2 L871.0,70.6 L873.2,70.0 L875.5,69.4 L877.7,68.8 L879.9,68.2 L882.2,67.7 L884.4,67.1 L886.7,66.5 L888.9,66.0 L891.1,65.4 L893.4,64.9 L895.6,64.3 L897.9,63.7 L900.1,63.2 L902.4,62.7 L904.6,62.1 L906.9,61.6 L909.1,61.1 L911.4,60.5 L913.6,60.0 L915.9,59.5 L918.1,59.0 L920.4,58.5 L922.6,58.0 L924.9,57.5 L927.2,57.0 L929.4,56.5 L931.7,56.0 L933.9,55.5 L936.2,55.0 L938.5,54.5 L940.7,54.0 L943.0,53.6 L945.2,53.1 L947.5,52.6 L949.8,52.2 L952.0,51.7 L954.3,51.3 L956.6,50.8 L958.9,50.4 L961.1,49.9 L963.4,49.5 L965.7,49.0 L967.9,48.6 L970.2,48.2 L972.5,47.8 L974.8,47.3 L977.0,46.9 L979.3,46.5 L981.6,46.1 L983.9,45.7 L986.1,45.3 L988.4,44.9 L990.7,44.5 L993.0,44.1 L995.3,43.7 L997.6,43.4 L999.8,43.0 L1002.1,42.6 L1004.4,42.2 L1006.7,41.9 L1009.0,41.5 L1011.3,41.2 L1013.5,40.8 L1015.8,40.5 L1018.1,40.1 L1020.4,39.8 L1022.7,39.4 L1025.0,39.1 L1027.3,38.8 L1029.6,38.4 L1031.9,38.1 L1034.2,37.8 L1036.5,37.5 L1038.7,37.2 L1041.0,36.8 L1043.3,36.5 L1045.6,36.2 L1047.9,35.9 L1050.2,35.7 L1052.5,35.4 L1054.8,35.1 L1057.1,34.8 L1059.4,34.5 L1061.7,34.2 L1064.0,34.0 L1066.3,33.7 L1068.6,33.4 L1070.9,33.2 L1073.2,32.9 L1075.5,32.7 L1077.8,32.4 L1080.1,32.2 L1082.4,32.0 L1084.7,31.7 L1087.0,31.5 L1089.3,31.3 L1091.7,31.0 L1094.0,30.8 L1096.3,30.6 L1098.6,30.4 L1100.9,30.2 L1103.2,30.0 L1105.5,29.8 L1107.8,29.6 L1110.1,29.4 L1112.4,29.2 L1114.7,29.0 L1117.0,28.8 L1119.4,28.6 L1121.7,28.5 L1124.0,28.3 L1126.3,28.1 L1128.6,28.0 L1130.9,27.8 L1133.2,27.7 L1135.5,27.5 L1137.9,27.4 L1140.2,27.2 L1142.5,27.1 L1144.8,26.9 L1147.1,26.8 L1149.4,26.7 L1151.7,26.6 L1154.1,26.4 L1156.4,26.3 L1158.7,26.2 L1161.0,26.1 L1163.3,26.0 L1165.6,25.9 L1168.0,25.8 L1170.3,25.7 L1172.6,25.6 L1174.9,25.5 L1177.2,25.4 L1179.5,25.4 L1181.9,25.3 L1184.2,25.2 L1186.5,25.2 L1188.8,25.1 L1191.1,25.0 L1193.5,25.0 L1195.8,24.9 L1198.1,24.9 L1200.4,24.8 L1202.7,24.8 L1205.1,24.8 L1207.4,24.7 L1209.7,24.7 L1212.0,24.7 L1214.3,24.7 L1216.7,24.6 L1219.0,24.6 L1221.3,24.6 L1223.6,24.6 L1226.0,24.6 L1228.3,24.6 L1230.6,24.6 L1232.9,24.6 L1235.2,24.7 L1237.6,24.7 L1239.9,24.7 L1242.2,24.7 L1244.5,24.7 L1246.9,24.8 L1249.2,24.8 L1251.5,24.9 L1253.8,24.9 L1256.1,25.0 L1258.5,25.0 L1260.8,25.1 L1263.1,25.1 L1265.4,25.2 L1267.8,25.3 L1270.1,25.3 L1272.4,25.4 L1274.7,25.5 L1277.0,25.6 L1279.4,25.7 L1281.7,25.8 L1284.0,25.9 L1286.3,26.0 L1289.3,26.1" stroke="#ff0000" stroke-width="5.8" stroke-dasharray="14.75 14.75" stroke-dashoffset="21.45"/>
</g>
<path d="M237.30,1050.00 v-15.60 M237.30,1.00 v15.60 M279.26,1050.00 v-9.50 M279.26,1.00 v9.50 M321.22,1050.00 v-9.50 M321.22,1.00 v9.50 M363.18,1050.00 v-9.50 M363.18,1.00 v9.50 M405.14,1050.00 v-9.50 M405.14,1.00 v9.50 M447.10,1050.00 v-15.60 M447.10,1.00 v15.60 M489.06,1050.00 v-9.50 M489.06,1.00 v9.50 M531.02,1050.00 v-9.50 M531.02,1.00 v9.50 M572.98,1050.00 v-9.50 M572.98,1.00 v9.50 M614.94,1050.00 v-9.50 M614.94,1.00 v9.50 M656.90,1050.00 v-15.60 M656.90,1.00 v15.60 M698.86,1050.00 v-9.50 M698.86,1.00 v9.50 M740.82,1050.00 v-9.50 M740.82,1.00 v9.50 M782.78,1050.00 v-9.50 M782.78,1.00 v9.50 M824.74,1050.00 v-9.50 M824.74,1.00 v9.50 M866.70,1050.00 v-15.60 M866.70,1.00 v15.60 M908.66,1050.00 v-9.50 M908.66,1.00 v9.50 M950.62,1050.00 v-9.50 M950.62,1.00 v9.50 M992.58,1050.00 v-9.50 M992.58,1.00 v9.50 M1034.54,1050.00 v-9.50 M1034.54,1.00 v9.50 M1076.50,1050.00 v-15.60 M1076.50,1.00 v15.60 M1118.46,1050.00 v-9.50 M1118.46,1.00 v9.50 M1160.42,1050.00 v-9.50 M1160.42,1.00 v9.50 M1202.38,1050.00 v-9.50 M1202.38,1.00 v9.50 M1244.34,1050.00 v-9.50 M1244.34,1.00 v9.50 M1286.30,1050.00 v-15.60 M1286.30,1.00 v15.60 M237.30,1050.00 h10.80 M1286.30,1050.00 h-10.80 M237.30,990.43 h9.60 M1286.30,990.43 h-9.60 M237.30,955.58 h9.60 M1286.30,955.58 h-9.60 M237.30,930.85 h9.60 M1286.30,930.85 h-9.60 M237.30,911.67 h9.60 M1286.30,911.67 h-9.60 M237.30,896.00 h9.60 M1286.30,896.00 h-9.60 M237.30,882.76 h9.60 M1286.30,882.76 h-9.60 M237.30,871.28 h9.60 M1286.30,871.28 h-9.60 M237.30,861.16 h9.60 M1286.30,861.16 h-9.60 M237.30,852.10 h10.80 M1286.30,852.10 h-10.80 M237.30,792.53 h9.60 M1286.30,792.53 h-9.60 M237.30,757.68 h9.60 M1286.30,757.68 h-9.60 M237.30,732.95 h9.60 M1286.30,732.95 h-9.60 M237.30,713.77 h9.60 M1286.30,713.77 h-9.60 M237.30,698.10 h9.60 M1286.30,698.10 h-9.60 M237.30,684.86 h9.60 M1286.30,684.86 h-9.60 M237.30,673.38 h9.60 M1286.30,673.38 h-9.60 M237.30,663.26 h9.60 M1286.30,663.26 h-9.60 M237.30,654.20 h10.80 M1286.30,654.20 h-10.80 M237.30,594.63 h9.60 M1286.30,594.63 h-9.60 M237.30,559.78 h9.60 M1286.30,559.78 h-9.60 M237.30,535.05 h9.60 M1286.30,535.05 h-9.60 M237.30,515.87 h9.60 M1286.30,515.87 h-9.60 M237.30,500.20 h9.60 M1286.30,500.20 h-9.60 M237.30,486.96 h9.60 M1286.30,486.96 h-9.60 M237.30,475.48 h9.60 M1286.30,475.48 h-9.60 M237.30,465.36 h9.60 M1286.30,465.36 h-9.60 M237.30,456.30 h10.80 M1286.30,456.30 h-10.80 M237.30,396.73 h9.60 M1286.30,396.73 h-9.60 M237.30,361.88 h9.60 M1286.30,361.88 h-9.60 M237.30,337.15 h9.60 M1286.30,337.15 h-9.60 M237.30,317.97 h9.60 M1286.30,317.97 h-9.60 M237.30,302.30 h9.60 M1286.30,302.30 h-9.60 M237.30,289.06 h9.60 M1286.30,289.06 h-9.60 M237.30,277.58 h9.60 M1286.30,277.58 h-9.60 M237.30,267.46 h9.60 M1286.30,267.46 h-9.60 M237.30,258.40 h10.80 M1286.30,258.40 h-10.80 M237.30,198.83 h9.60 M1286.30,198.83 h-9.60 M237.30,163.98 h9.60 M1286.30,163.98 h-9.60 M237.30,139.25 h9.60 M1286.30,139.25 h-9.60 M237.30,120.07 h9.60 M1286.30,120.07 h-9.60 M237.30,104.40 h9.60 M1286.30,104.40 h-9.60 M237.30,91.16 h9.60 M1286.30,91.16 h-9.60 M237.30,79.68 h9.60 M1286.30,79.68 h-9.60 M237.30,69.56 h9.60 M1286.30,69.56 h-9.60 M237.30,60.50 h10.80 M1286.30,60.50 h-10.80 M237.30,0.93 h9.60 M1286.30,0.93 h-9.60" stroke="#000" stroke-width="2.2" fill="none"/>
<rect x="237.3" y="1.0" width="1049.0" height="1049.0" fill="none" stroke="#000" stroke-width="2.2"/>
<g font-family="'Liberation Sans', sans-serif" fill="#000">
<text transform="translate(199.37,1111.30) scale(1,1.015)" font-size="55.0">0.5</text>
<text transform="translate(409.17,1111.30) scale(1,1.015)" font-size="55.0">0.6</text>
<text transform="translate(618.97,1111.30) scale(1,1.015)" font-size="55.0">0.7</text>
<text transform="translate(828.77,1111.30) scale(1,1.015)" font-size="55.0">0.8</text>
<text transform="translate(1038.57,1111.30) scale(1,1.015)" font-size="55.0">0.9</text>
<path transform="translate(1248.37,1111.30) scale(0.02686,-0.02686)" d="M763 0H583V1147Q518 1085 412.5 1023Q307 961 223 930V1104Q374 1175 487 1276Q600 1377 647 1472H763Z"/><text transform="translate(1278.96,1111.30)" font-size="55.0">.</text><text transform="translate(1294.24,1111.30) scale(1,1.015)" font-size="55.0">0</text>
<path transform="translate(195.11,79.70) scale(0.02686,-0.02686)" d="M763 0H583V1147Q518 1085 412.5 1023Q307 961 223 930V1104Q374 1175 487 1276Q600 1377 647 1472H763Z"/>
<text transform="translate(88.07,277.60) scale(1,1.015)" font-size="55.0">0.</text><path transform="translate(133.94,277.60) scale(0.02686,-0.02686)" d="M763 0H583V1147Q518 1085 412.5 1023Q307 961 223 930V1104Q374 1175 487 1276Q600 1377 647 1472H763Z"/><text transform="translate(164.52,277.60) scale(1,1.015)" font-size="55.0">00</text>
<text transform="translate(88.07,475.50) scale(1,1.015)" font-size="55.0">0.0</text><path transform="translate(164.52,475.50) scale(0.02686,-0.02686)" d="M763 0H583V1147Q518 1085 412.5 1023Q307 961 223 930V1104Q374 1175 487 1276Q600 1377 647 1472H763Z"/><text transform="translate(195.11,475.50) scale(1,1.015)" font-size="55.0">0</text>
<text transform="translate(88.07,673.40) scale(1,1.015)" font-size="55.0">0.00</text><path transform="translate(195.11,673.40) scale(0.02686,-0.02686)" d="M763 0H583V1147Q518 1085 412.5 1023Q307 961 223 930V1104Q374 1175 487 1276Q600 1377 647 1472H763Z"/>
<path transform="translate(119.30,875.20) scale(0.02686,-0.02686)" d="M763 0H583V1147Q518 1085 412.5 1023Q307 961 223 930V1104Q374 1175 487 1276Q600 1377 647 1472H763Z"/><text transform="translate(149.89,875.20) scale(1,1.015)" font-size="55.0">0</text>
<rect x="183.5" y="841.60" width="16.4" height="3.0"/>
<text transform="translate(202.00,852.00) scale(1,1.015)" font-size="39.0">4</text>
<path transform="translate(119.30,1073.10) scale(0.02686,-0.02686)" d="M763 0H583V1147Q518 1085 412.5 1023Q307 961 223 930V1104Q374 1175 487 1276Q600 1377 647 1472H763Z"/><text transform="translate(149.89,1073.10) scale(1,1.015)" font-size="55.0">0</text>
<rect x="183.5" y="1039.50" width="16.4" height="3.0"/>
<text transform="translate(202.00,1049.90) scale(1,1.015)" font-size="39.0">5</text>
<text transform="translate(678.50,1199.20) scale(1,1.010)" font-size="55.0">Ω</text>
<text transform="translate(720.90,1220.20)" font-size="40.0">*</text>
<text transform="translate(740.30,1199.20)" font-size="55.0">/</text>
<text transform="translate(755.60,1199.20) scale(1,1.010)" font-size="55.0">Ω</text>
<text transform="translate(797.60,1220.20)" font-size="40.0">*</text>
<text transform="translate(815.00,1208.50)" font-size="40.0" font-style="italic">K</text>
<rect x="33.7" y="744.6" width="4.0" height="25.4"/>
<text transform="translate(50.00,742.30) rotate(-90)" font-size="55.0">(</text>
<text transform="translate(50.00,722.80) rotate(-90)" font-size="55.0">d</text><text transform="translate(50.00,692.21) rotate(-90) scale(1,1.010)" font-size="55.0">Ω</text><text transform="translate(50.00,651.10) rotate(-90)" font-size="55.0">/d</text>
<text transform="translate(50.00,604.40) rotate(-90) scale(1,1.020)" font-size="55.0">R</text>
<text transform="translate(50.00,565.20) rotate(-90)" font-size="55.0">)</text>
<text transform="translate(71.40,545.00) rotate(-90)" font-size="40.0">*</text>
<text transform="translate(50.00,510.20) rotate(-90)" font-size="55.0">/</text>
<text transform="translate(50.00,481.00) rotate(-90)" font-size="55.0">(</text>
<text transform="translate(50.00,461.10) rotate(-90) scale(1,1.010)" font-size="55.0">Ω</text>
<text transform="translate(71.40,418.80) rotate(-90)" font-size="40.0">*</text>
<text transform="translate(60.00,402.80) rotate(-90)" font-size="40.0" font-style="italic">K</text>
<text transform="translate(50.00,371.00) rotate(-90)" font-size="55.0">/</text>
<text transform="translate(50.00,355.60) rotate(-90) scale(1,1.020)" font-size="55.0" font-style="italic">R</text>
<text transform="translate(71.40,315.20) rotate(-90)" font-size="40.0">*</text>
<text transform="translate(50.00,296.00) rotate(-90)" font-size="55.0">)</text>
</g>
</svg>
</body></html>
